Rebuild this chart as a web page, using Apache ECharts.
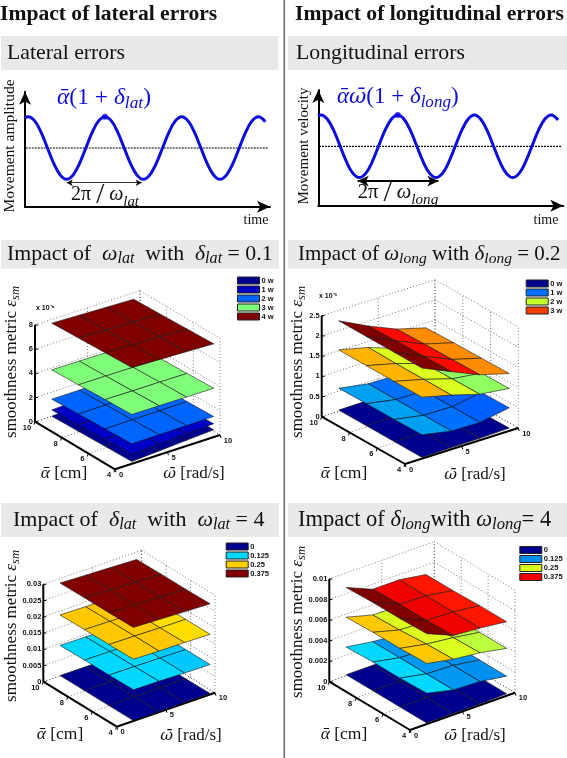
<!DOCTYPE html>
<html><head><meta charset="utf-8">
<style>html,body{margin:0;padding:0;background:#fff}#c{width:567px;height:758px}</style>
<script src="https://cdn.jsdelivr.net/npm/echarts@6/dist/echarts.min.js"></script>
</head><body><div id="c"></div>
<script>
// ---------- data ----------
const waveT = [-0.04,0,0.083,0.167,0.25,0.333,0.417,0.5,0.583,0.667,0.75,0.833,0.917,1,1.083,1.167,1.25,1.333,1.417,1.5,1.583,1.667,1.75,1.833,1.917,2,2.083,2.167,2.25,2.333,2.417,2.5,2.583,2.667,2.75,2.833,2.917,3,3.09];
const waveA = [0.97,1,0.866,0.5,0,-0.5,-0.866,-1,-0.866,-0.5,0,0.5,0.866,1,0.866,0.5,0,-0.5,-0.866,-1,-0.866,-0.5,0,0.5,0.866,1,0.866,0.5,0,-0.5,-0.866,-1,-0.866,-0.5,0,0.5,0.866,1,0.84];
const alphaGrid = [4,6,8,10];
const omegaLat1 = [1.6,4.2,6.8,9.4];
const omegaLong1 = [1.5,4.1,6.6,9.2];
const omegaLat2 = [1.7,4.3,6.9,9.5];
const omegaLong2 = [1.6,4.13,6.67,9.2];
const alphaTicks = [4,6,8,10];
const omegaTicks = [0,5,10];
const zTicksLat1 = ['0','2','4','6','8'];
const zTicksLong1 = ['0','0.5','1','1.5','2','2.5'];
const zTicksLat2 = ['0','0.005','0.01','0.015','0.02','0.025','0.03'];
const zTicksLong2 = ['0','0.002','0.004','0.006','0.008','0.01'];
// rows: alpha 4,6,8,10; columns: omega samples
const lat1_0w = [[0.19,0.33,0.47,0.60],[0.13,0.27,0.41,0.53],[0.06,0.20,0.34,0.47],[0,0.13,0.27,0.40]];
const lat1_1w = [[0.80,0.90,1.00,1.10],[0.71,0.81,0.91,1.00],[0.61,0.71,0.81,0.90],[0.52,0.62,0.71,0.80]];
const lat1_2w = [[1.66,1.67,1.69,1.70],[1.58,1.59,1.61,1.62],[1.49,1.51,1.52,1.54],[1.41,1.42,1.44,1.45]];
const lat1_3w = [[4.08,4.07,4.05,4.04],[4.00,3.98,3.97,3.95],[3.91,3.90,3.88,3.87],[3.83,3.82,3.80,3.79]];
const lat1_4w = [[7.97,7.88,7.80,7.71],[7.88,7.80,7.71,7.63],[7.79,7.71,7.62,7.54],[7.70,7.62,7.54,7.46]];
const long1_0w = [[0.03,0.04,0.05,0.07],[0.03,0.04,0.05,0.06],[0.03,0.04,0.05,0.06],[0.03,0.04,0.04,0.05]];
const long1_1w = [[0.59,0.45,0.44,0.57],[0.58,0.45,0.44,0.56],[0.58,0.45,0.44,0.56],[0.57,0.45,0.44,0.55]];
const long1_2w = [[1.52,1.34,1.14,1.05],[1.52,1.34,1.13,1.04],[1.52,1.34,1.12,1.03],[1.52,1.35,1.10,1.02]];
const long1_3w = [[2.24,1.92,1.62,1.42],[2.24,1.91,1.61,1.41],[2.24,1.90,1.60,1.40],[2.24,1.88,1.58,1.38]];
const lat2_0 = [[0.0001,0.0001,0.0002,0.0003],[0.0001,0.0001,0.0002,0.0002],[0.0001,0.0001,0.0001,0.0002],[0.0001,0.0001,0.0001,0.0001]];
const lat2_125 = [[0.0096,0.0095,0.0093,0.0092],[0.0095,0.0094,0.0093,0.0092],[0.0095,0.0094,0.0093,0.0091],[0.0094,0.0093,0.0092,0.0091]];
const lat2_25 = [[0.0190,0.0188,0.0187,0.0185],[0.0189,0.0188,0.0186,0.0185],[0.0189,0.0187,0.0186,0.0184],[0.0188,0.0186,0.0185,0.0183]];
const lat2_375 = [[0.0288,0.0285,0.0282,0.0279],[0.0287,0.0284,0.0281,0.0278],[0.0287,0.0284,0.0280,0.0278],[0.0286,0.0283,0.0280,0.0277]];
const long2_0 = [[0.0001,0.0001,0.0001,0.0002],[0.0001,0.0001,0.0001,0.0002],[0.0001,0.0001,0.0001,0.0001],[0.0001,0.0001,0.0001,0.0001]];
const long2_125 = [[0.0030,0.0024,0.0023,0.0019],[0.0029,0.0024,0.0023,0.0019],[0.0029,0.0024,0.0023,0.0019],[0.0028,0.0024,0.0022,0.0019]];
const long2_25 = [[0.0059,0.0054,0.0051,0.0046],[0.0058,0.0053,0.0050,0.0046],[0.0058,0.0051,0.0050,0.0046],[0.0057,0.0050,0.0049,0.0046]];
const long2_375 = [[0.0088,0.0077,0.0075,0.0072],[0.0087,0.0076,0.0075,0.0072],[0.0087,0.0076,0.0075,0.0071],[0.0086,0.0075,0.0075,0.0071]];
const legendLat1 = ['0 w','1 w','2 w','3 w','4 w'];
const legendLong1 = ['0 w','1 w','2 w','3 w'];
const legendLat2 = ['0','0.125','0.25','0.375'];
const legendLong2 = ['0','0.125','0.25','0.375'];

// ---------- styles and layout ----------
const SERIF = '"Liberation Serif","DejaVu Serif",serif';
const SANS = '"Liberation Sans",Arial,sans-serif';
const NAVY='#00008f', BLUE='#0c0ce0';
const panels = [
 {box:[0,270,283,230], front:[115,469.3], left:[35,421.7], right:[220,435], zPx:96.7, zMax:8, zTicks:zTicksLat1,
  omega:omegaLat1, legend:{names:legendLat1, colors:[NAVY,'#0000c4','#0064ff','#80ff78','#800000'], left:237, top:276.5, labelX:261},
  surfaces:[[lat1_0w,[NAVY,NAVY,NAVY]],[lat1_1w,['#0000c4','#0000c4','#0000c4']],[lat1_2w,['#0064ff','#0064ff','#0064ff']],[lat1_3w,['#80ff78','#80ff78','#80ff78']],[lat1_4w,['#800000','#800000','#800000']]]},
 {box:[287,270,280,230], front:[405,464], left:[321.7,416.7], right:[518.3,428], zPx:101, zMax:2.5, zTicks:zTicksLong1,
  omega:omegaLong1, legend:{names:legendLong1, colors:[NAVY,'#0070ff','#c8ff30','#f04000'], left:525.7, top:279.5, labelX:550},
  surfaces:[[long1_0w,[NAVY,NAVY,NAVY]],[long1_1w,['#00a0f0','#0070ff','#0060ff']],[long1_2w,['#ffb400','#dcff20','#90ff60']],[long1_3w,['#800000','#ff0800','#ff8c00']]]},
 {box:[0,538,283,220], front:[116.7,726.7], left:[43.3,681.7], right:[215,692.7], zPx:97.4, zMax:0.03, zTicks:zTicksLat2,
  omega:omegaLat2, legend:{names:legendLat2, colors:[NAVY,'#00d8ff','#ffd000','#800000'], left:225.7, top:542.5, labelX:250},
  surfaces:[[lat2_0,[NAVY,NAVY,NAVY]],[lat2_125,['#00d8ff','#00d8ff','#00c8ff']],[lat2_25,['#ffc800','#ffc800','#ffdd00']],[lat2_375,['#800000','#800000','#800000']]]},
 {box:[287,538,280,220], front:[410,730], left:[329.3,681.7], right:[515,692.7], zPx:102.7, zMax:0.01, zTicks:zTicksLong2,
  omega:omegaLong2, legend:{names:legendLong2, colors:[NAVY,'#0090f0','#d8ff20','#f00000'], left:519.3, top:546, labelX:544},
  surfaces:[[long2_0,[NAVY,NAVY,NAVY]],[long2_125,['#00d8ff','#0098f0','#0090f0']],[long2_25,['#ffc800','#dcff20','#bcff3c']],[long2_375,['#800000','#f00000','#ff1500']]]}
];
const wavePanels = [
 {grid:[25,91.7,245,115], t0:28.3, mid:148, arrow:[0.5,1.478], arrowW:0.8, yName:'Movement amplitude'},
 {grid:[318.3,90,245,115.7], t0:321, mid:146.3, arrow:[0.478,1.53], arrowW:1.8, yName:'Movement velocity'}
];
const PER=76.7, AMP=31.3;

// ---------- 3D projection onto each panel's plane axes ----------
function project(p,w,a,z){
  const fx=p.front[0], fy=p.front[1];
  const x = fx + w/10*(p.right[0]-fx) + (a-4)/6*(p.left[0]-fx);
  const y = fy + w/10*(p.right[1]-fy) + (a-4)/6*(p.left[1]-fy) - z/p.zMax*p.zPx;
  return [x-p.box[0], y-p.box[1]];
}
const grids=[], xAxes=[], yAxes=[], series=[], legends=[];

wavePanels.forEach((w,i)=>{
  const g=w.grid;
  grids.push({left:g[0],top:g[1],width:g[2],height:g[3]});
  const xmin=(g[0]-w.t0)/PER, xmax=(g[0]+g[2]-w.t0)/PER;
  const ymin=(w.mid-(g[1]+g[3]))/AMP, ymax=(w.mid-g[1])/AMP;
  xAxes.push({type:'value',gridIndex:i,min:xmin,max:xmax,splitLine:{show:false},axisTick:{show:false},axisLabel:{show:false},
    axisLine:{show:true,onZero:false,symbol:['none','arrow'],symbolSize:[9,13],lineStyle:{color:'#000',width:2}}});
  yAxes.push({type:'value',gridIndex:i,min:ymin,max:ymax,splitLine:{show:false},axisTick:{show:false},axisLabel:{show:false},
    axisLine:{show:true,onZero:false,symbol:['none','arrow'],symbolSize:[9,13],lineStyle:{color:'#000',width:2}}});
  series.push({type:'line',xAxisIndex:i,yAxisIndex:i,silent:true,showSymbol:false,symbol:'none',smooth:false,z:3,
    data:[[xmin+0.01,0],[xmax-0.02,0]],lineStyle:{color:'#000',width:1.2,type:[2,1]}});
  series.push({type:'line',xAxisIndex:i,yAxisIndex:i,silent:true,showSymbol:false,symbol:'none',smooth:0.4,z:4,
    data:waveT.map((t,k)=>[t,waveA[k]]),lineStyle:{color:BLUE,width:3},
    markLine:{silent:true,animation:false,symbol:['arrow','arrow'],symbolSize:i?[8,11]:[5,6],label:{show:false},
      lineStyle:{color:'#000',width:w.arrowW,type:'solid'},
      data:[[{coord:[w.arrow[0],-1.11]},{coord:[w.arrow[1],-1.11]}]]}});
  series.push({type:'scatter',xAxisIndex:i,yAxisIndex:i,silent:true,z:5,symbolSize:6,data:[[1,1]],itemStyle:{color:BLUE}});
});

panels.forEach((p,pi)=>{
  const gi=pi+2, b=p.box;
  grids.push({left:b[0],top:b[1],width:b[2],height:b[3]});
  xAxes.push({type:'value',gridIndex:gi,min:0,max:b[2],show:false});
  yAxes.push({type:'value',gridIndex:gi,min:0,max:b[3],inverse:true,show:false});
  // frame: walls, floor, axes, tick labels
  series.push({type:'custom',xAxisIndex:gi,yAxisIndex:gi,silent:true,z:2,data:[[0,0]],
    renderItem(params,api){
      const P=(w,a,z)=>api.coord(project(p,w,a,z));
      const seg=(A,B,o)=>({type:'line',shape:{x1:A[0],y1:A[1],x2:B[0],y2:B[1]},style:Object.assign({stroke:'#555',lineWidth:0.8,lineDash:[1,2.2]},o||{})});
      const kids=[], n=p.zTicks.length, top=p.zMax;
      p.zTicks.forEach((lab,k)=>{
        const z=top*k/(n-1);
        kids.push(seg(P(0,10,z),P(10,10,z)));
        kids.push(seg(P(10,10,z),P(10,4,z)));
        kids.push({type:'line',shape:{x1:P(0,10,z)[0],y1:P(0,10,z)[1],x2:P(0,10,z)[0]+3,y2:P(0,10,z)[1]},style:{stroke:'#000',lineWidth:1}});
        kids.push({type:'text',style:{text:lab,x:P(0,10,z)[0]-2,y:P(0,10,z)[1],textAlign:'right',textVerticalAlign:'middle',font:'bold 7.5px '+SANS,fill:'#111'}});
      });
      omegaTicks.forEach(w=>{
        kids.push(seg(P(w,10,0),P(w,10,top)));
        if(w>0) kids.push(seg(P(w,10,0),P(w,4,0)));
        const q=P(w,4,0);
        kids.push({type:'text',style:{text:String(w),x:q[0]+(w==10?8:6),y:q[1]+5.5,textAlign:'center',textVerticalAlign:'middle',font:'bold 7.5px '+SANS,fill:'#111'}});
        kids.push({type:'line',shape:{x1:q[0],y1:q[1],x2:q[0]+1,y2:q[1]+3},style:{stroke:'#000',lineWidth:1}});
      });
      alphaTicks.forEach(a=>{
        if(a>4) kids.push(seg(P(10,a,0),P(10,a,top)));
        if(a>4) kids.push(seg(P(0,a,0),P(10,a,0)));
        const q=P(0,a,0);
        kids.push({type:'text',style:{text:String(a),x:q[0]-(a==10?8:6),y:q[1]+6,textAlign:'center',textVerticalAlign:'middle',font:'bold 7.5px '+SANS,fill:'#111'}});
        kids.push({type:'line',shape:{x1:q[0],y1:q[1],x2:q[0]-1,y2:q[1]+3},style:{stroke:'#000',lineWidth:1}});
      });
      kids.push(seg(P(10,4,0),P(10,4,top)));
      const thick={stroke:'#000',lineWidth:2,lineDash:null};
      kids.push(seg(P(0,10,0),P(0,10,top),thick));
      kids.push(seg(P(0,10,0),P(0,4,0),thick));
      kids.push(seg(P(0,4,0),P(10,4,0),thick));
      return {type:'group',children:kids};
    }});
  // surfaces, lowest first, back cells first
  p.surfaces.forEach((s,si)=>{
    const m=s[0], cols=s[1], cells=[];
    for(let r=alphaGrid.length-2;r>=0;r--) for(let c=p.omega.length-2;c>=0;c--)
      cells.push([p.omega[c],alphaGrid[r],p.omega[c+1],alphaGrid[r+1],m[r][c],m[r][c+1],m[r+1][c],m[r+1][c+1],c]);
    series.push({type:'custom',name:p.legend.names[si],xAxisIndex:gi,yAxisIndex:gi,silent:true,z:3+si,data:cells,
      encode:{x:0,y:1},
      renderItem(params,api){
        const w0=api.value(0),a0=api.value(1),w1=api.value(2),a1=api.value(3);
        const pts=[[w0,a0,4],[w1,a0,5],[w1,a1,7],[w0,a1,6]].map(q=>api.coord(project(p,q[0],q[1],api.value(q[2]))));
        return {type:'polygon',shape:{points:pts},style:{fill:cols[api.value(8)],stroke:'#181818',lineWidth:0.6,lineJoin:'round'}};
      }});
  });
  legends.push({show:true,left:p.legend.left,top:p.legend.top,orient:'vertical',selectedMode:false,icon:'rect',
    itemWidth:22,itemHeight:7,itemGap:1,padding:0,
    textStyle:{fontFamily:SANS,fontSize:7.5,fontWeight:'bold',color:'#111',padding:[0,0,0,-3]},
    data:p.legend.names.map((n,k)=>({name:n,itemStyle:{color:p.legend.colors[k],borderColor:'#222',borderWidth:1}}))});
});

// ---------- text ----------
const base=(size,color,extra)=>Object.assign({fontFamily:SERIF,fontSize:size,fill:color||'#111'},extra||{});
function mathRich(size,color){
  return {
    r:base(size,color),
    i:base(size,color,{fontStyle:'italic'}),
    o:base(size*0.92,color,{fontStyle:'italic',fontFamily:'"DejaVu Serif"'}),
    big:base(size*1.45,color),
    sub:base(size*0.74,color,{fontStyle:'italic',padding:[size*0.45,0,0,0],verticalAlign:'bottom'})
  };
}
const ALPHA='\u1FB1', OMEGA='\u03C9\u0304';
function txt(x,y,text,o){
  o=o||{};
  const size=o.size||20, color=o.color||'#111';
  return {type:'text',z:20,x:x,y:y,rotation:o.rot||0,silent:true,
    style:{text:text,x:0,y:0,textAlign:o.align||'left',textVerticalAlign:'middle',
      font:(o.bold?'bold ':'')+size+'px '+SERIF,fill:color,rich:mathRich(size,color)}};
}
const bg=(x,y,w,h)=>({type:'rect',z:0,silent:true,shape:{x,y,width:w,height:h},style:{fill:'#e9e9e9'}});
const R90=Math.PI/2;
const graphic=[
  {type:'rect',z:0,silent:true,shape:{x:283.5,y:0,width:1.6,height:758},style:{fill:'#6e6e6e'}},
  bg(1,36,277.5,34),bg(288,36,279,34),bg(1,240,278,28.5),bg(288,240,279,28.5),bg(1,503,278,34),bg(288,503,279,34),
  txt(0,14,'Impact of lateral errors',{size:21.6,bold:true}),
  txt(295,14,'Impact of longitudinal errors',{size:21.6,bold:true}),
  txt(7,53,'Lateral errors',{size:21.8}),
  txt(296,53,'Longitudinal errors',{size:21.8}),
  txt(7,254,'{r|Impact of  }{i|ω}{sub|lat}{r|  with  }{i|δ}{sub|lat}{r| = 0.1}',{size:21.8}),
  txt(298,254,'{r|Impact of }{i|ω}{sub|long}{r| with }{i|δ}{sub|long}{r| = 0.2}',{size:21}),
  txt(13,520,'{r|Impact of  }{i|δ}{sub|lat}{r|  with  }{i|ω}{sub|lat}{r| = 4}',{size:22}),
  txt(298,520,'{r|Impact of }{i|δ}{sub|long}{r|with }{i|ω}{sub|long}{r|= 4}',{size:22.5}),
  txt(57,98,'{i|'+ALPHA+'}{r|(1 + }{i|δ}{sub|lat}{r|)}',{size:23.5,color:BLUE}),
  txt(337,97,'{i|'+ALPHA+'}{o|'+OMEGA+'}{r|(1 + }{i|δ}{sub|long}{r|)}',{size:23,color:BLUE}),
  txt(105,195,'{r|2π }{big|/}{r| }{i|ω}{sub|lat}',{size:20,align:'center'}),
  txt(398,193,'{r|2π }{big|/}{r| }{i|ω}{sub|long}',{size:20.5,align:'center'}),
  txt(10,146,'Movement amplitude',{size:15.5,rot:R90,align:'center'}),
  txt(304,146,'Movement velocity',{size:15,rot:R90,align:'center'}),
  txt(256,220,'time',{size:14,align:'center'}),
  txt(546,220,'time',{size:14,align:'center'}),
  txt(12,362,'{r|smoothness metric }{i|ε}{sub|sm}',{size:17,rot:R90,align:'center'}),
  txt(298,362,'{r|smoothness metric }{i|ε}{sub|sm}',{size:17,rot:R90,align:'center'}),
  txt(12,626,'{r|smoothness metric }{i|ε}{sub|sm}',{size:17,rot:R90,align:'center'}),
  txt(298,622,'{r|smoothness metric }{i|ε}{sub|sm}',{size:17,rot:R90,align:'center'}),
  txt(64,473,'{i|'+ALPHA+'}{r| [cm]}',{size:17.5,align:'center'}),
  txt(344,473,'{i|'+ALPHA+'}{r| [cm]}',{size:17.5,align:'center'}),
  txt(60,734,'{i|'+ALPHA+'}{r| [cm]}',{size:17.5,align:'center'}),
  txt(344,734,'{i|'+ALPHA+'}{r| [cm]}',{size:17.5,align:'center'}),
  txt(194,474,'{o|'+OMEGA+'}{r| [rad/s]}',{size:17,align:'center'}),
  txt(475,475,'{o|'+OMEGA+'}{r| [rad/s]}',{size:17,align:'center'}),
  txt(191,736,'{o|'+OMEGA+'}{r| [rad/s]}',{size:17,align:'center'}),
  txt(475,736,'{o|'+OMEGA+'}{r| [rad/s]}',{size:17,align:'center'}),
  {type:'text',z:20,silent:true,x:36,y:307.7,style:{text:'x 10⁻⁵',font:'bold 7px '+SANS,fill:'#111',textVerticalAlign:'middle'}},
  {type:'text',z:20,silent:true,x:319,y:296,style:{text:'x 10⁻³',font:'bold 7px '+SANS,fill:'#111',textVerticalAlign:'middle'}}
];

const chart=echarts.init(document.getElementById('c'),null,{renderer:'canvas',width:567,height:758});
chart.setOption({animation:false,backgroundColor:'#fff',grid:grids,xAxis:xAxes,yAxis:yAxes,legend:legends,series:series,graphic:graphic});
</script></body></html>
